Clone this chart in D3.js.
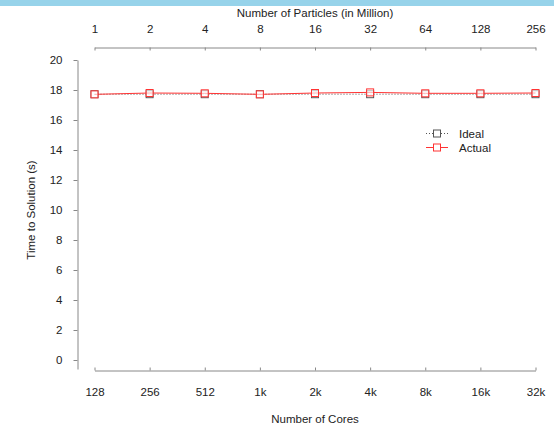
<!DOCTYPE html>
<meta charset='utf-8'>
<title>Weak scaling</title>
<style>
body {
  margin: 0;
  background-color: #fff;
}
text {
  font-family: "Liberation Sans", Arial, sans-serif;
  font-size: 11.5px;
  fill: #222;
}
</style>
<svg width="554" height="427"></svg>
<script src="https://d3js.org/d3.v7.min.js"></script>
<script>

// values
var cores = ["128", "256", "512", "1k", "2k", "4k", "8k", "16k", "32k"];
var particles = ["1", "2", "4", "8", "16", "32", "64", "128", "256"];
var ideal = [17.72, 17.72, 17.72, 17.72, 17.72, 17.72, 17.72, 17.72, 17.72];
var actual = [17.71, 17.8, 17.78, 17.71, 17.8, 17.84, 17.78, 17.78, 17.8];
var yTicks = [0, 2, 4, 6, 8, 10, 12, 14, 16, 18, 20];

var svg = d3.select("svg");

// light blue strip at the top
svg.append("rect")
    .attr("width", 554)
    .attr("height", 6)
    .attr("fill", "#97d3ea");

var x = d3.scalePoint().domain(cores).range([94.5, 535.5]);
var xTop = d3.scalePoint().domain(particles).range([94.5, 535.5]);
var y = d3.scaleLinear().domain([-0.6, 20]).range([369, 60]);

var axisColor = "#888";

// left axis
var gy = svg.append("g")
    .attr("transform", "translate(77.5,0)")
    .call(d3.axisLeft(y).tickValues(yTicks).tickSize(4).tickSizeOuter(0).tickPadding(11));

// bottom axis
var gx = svg.append("g")
    .attr("transform", "translate(0,370.5)")
    .call(d3.axisBottom(x).tickSizeInner(-3).tickSizeOuter(0).tickPadding(17));

// top axis
var gt = svg.append("g")
    .attr("transform", "translate(0,47.5)")
    .call(d3.axisTop(xTop).tickSizeInner(-3).tickSizeOuter(0).tickPadding(15));

[gy, gx, gt].forEach(function(g) {
  g.selectAll("path, line").attr("stroke", axisColor);
  g.selectAll("text")
      .attr("fill", "#222")
      .style("font-family", "'Liberation Sans', Arial, sans-serif")
      .style("font-size", "11.5px");
});

// axis titles
svg.append("text")
    .attr("x", 315)
    .attr("y", 17)
    .attr("text-anchor", "middle")
    .text("Number of Particles (in Million)");

svg.append("text")
    .attr("x", 315)
    .attr("y", 423)
    .attr("text-anchor", "middle")
    .text("Number of Cores");

svg.append("text")
    .attr("transform", "translate(35,210) rotate(-90)")
    .attr("text-anchor", "middle")
    .text("Time to Solution (s)");

var line = d3.line()
    .x(function(d, i) { return x(cores[i]); })
    .y(function(d) { return y(d); });

function drawSeries(values, color, dash) {
  svg.append("path")
      .attr("d", line(values))
      .attr("fill", "none")
      .attr("stroke", color)
      .attr("stroke-width", 1)
      .attr("stroke-dasharray", dash);

  svg.selectAll(null)
      .data(values)
    .enter().append("rect")
      .attr("x", function(d, i) { return x(cores[i]) - 3.5; })
      .attr("y", function(d) { return y(d) - 3.5; })
      .attr("width", 7)
      .attr("height", 7)
      .attr("fill", "#fff")
      .attr("fill-opacity", 0.6)
      .attr("stroke", color)
      .attr("stroke-width", 1);
}

drawSeries(ideal, "#555", "1,2");
drawSeries(actual, "#f33", null);

// legend
var legend = [
  {name: "Ideal", color: "#555", dash: "1,2"},
  {name: "Actual", color: "#f33", dash: null}
];

var lg = svg.selectAll("g.legend")
    .data(legend)
  .enter().append("g")
    .attr("class", "legend")
    .attr("transform", function(d, i) { return "translate(426," + (133.5 + i * 14) + ")"; });

lg.append("line")
    .attr("x1", 0)
    .attr("x2", 22)
    .attr("stroke", function(d) { return d.color; })
    .attr("stroke-dasharray", function(d) { return d.dash; });

lg.append("rect")
    .attr("x", 7.5)
    .attr("y", -3.5)
    .attr("width", 7)
    .attr("height", 7)
    .attr("fill", "#fff")
    .attr("stroke", function(d) { return d.color; });

lg.append("text")
    .attr("x", 33)
    .attr("y", 4)
    .text(function(d) { return d.name; });

</script>
